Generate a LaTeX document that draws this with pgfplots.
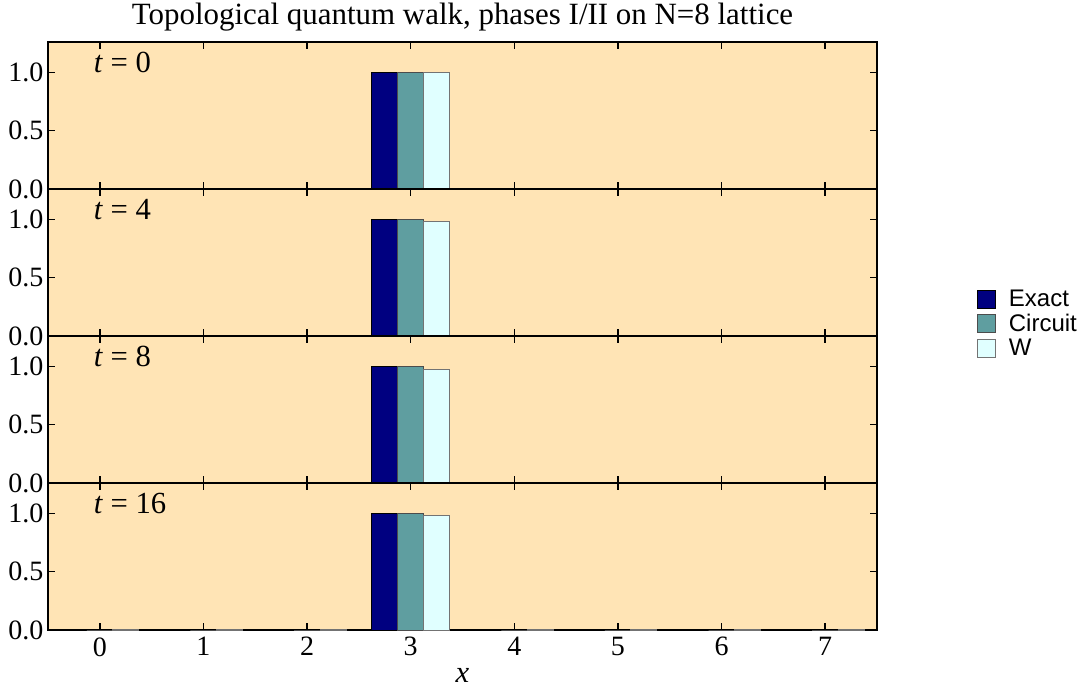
\documentclass[border=0pt]{standalone}
\usepackage{fontspec}
\setmainfont{Liberation Serif}
\newfontfamily\legfont{Liberation Sans}
\usepackage{pgfplots}
\usepackage{pgfplotstable}
\pgfplotsset{compat=1.18}
\usepgfplotslibrary{groupplots}
\definecolor{bg}{RGB}{255,228,181}
\definecolor{exactc}{RGB}{0,0,128}
\definecolor{circc}{RGB}{95,158,160}
\definecolor{wc}{RGB}{224,255,255}

\pgfplotstableread{
x e c w
0 0 0 0
1 0 0 0
2 0 0 0
3 1.0 1.0 1.0
4 0 0 0
5 0 0 0
6 0 0 0
7 0 0 0
}\tzero
\pgfplotstableread{
x e c w
0 0 0 0
1 0 0 0
2 0 0 0.006
3 1.0 1.0 0.98
4 0 0 0.006
5 0 0 0
6 0 0 0
7 0 0 0
}\tfour
\pgfplotstableread{
x e c w
0 0 0 0.002
1 0 0 0.002
2 0 0 0.006
3 1.0 1.0 0.97
4 0 0 0.006
5 0 0 0.002
6 0 0 0
7 0 0 0
}\teight
\pgfplotstableread{
x e c w
0 0 0 0.004
1 0 0 0.003
2 0 0 0.004
3 1.0 1.0 0.985
4 0 0 0.004
5 0 0 0.002
6 0 0 0.002
7 0 0 0.002
}\tsixteen

\newcommand{\tickfont}{\fontsize{21}{23}\selectfont}
\newcommand{\labfont}{\fontsize{23}{25}\selectfont}
\pgfplotsset{
  sqleg/.style={legend image code/.code={\draw[##1] (0pt,-6.75pt) rectangle (13.5pt,6.75pt); \path (21pt,0pt);}},
  pe/.style={fill=exactc, draw=black, line width=0.6pt},
  pc/.style={fill=circc, draw=black!70, line width=0.6pt},
  pw/.style={fill=wc, draw=black!55, line width=0.6pt},
}

\begin{document}
\begin{tikzpicture}
\begin{groupplot}[
  group style={group size=1 by 4, vertical sep=0pt, xticklabels at=edge bottom},
  scale only axis, width=621.75pt, height=110.25pt,
  xmin=-0.5, xmax=7.5, ymin=0, ymax=1.26,
  xtick={0,...,7}, ytick={0,0.5,1},
  ybar=0pt, /pgf/bar width=0.25,
  tick align=inside, major tick length=5pt,
  xtick pos=both, ytick pos=both,
  every tick/.style={black, line width=1.1pt},
  axis line style={line width=1.3pt},
  ticklabel style={font=\tickfont, /pgf/number format/assume math mode=true},
  xticklabel style={yshift=-2pt},
  yticklabel style={/pgf/number format/.cd, fixed, fixed zerofill, precision=1},
  axis background/.style={fill=bg},
]
\nextgroupplot[title={Topological quantum walk, phases I/II on N=8 lattice},
  title style={at={(0.5,1)}, anchor=base, yshift=7.5pt, font=\fontsize{23.2}{25}\selectfont}]
\addplot[pe] table[x=x,y=e] {\tzero};
\addplot[pc] table[x=x,y=c] {\tzero};
\addplot[pw] table[x=x,y=w] {\tzero};
\node[anchor=base west, inner sep=0pt, font=\labfont] at (axis cs:-0.06,1.0) {\textit{t} = 0};

\nextgroupplot[legend style={at={(1.116,0.35)}, anchor=north west, draw=none, fill=none,
  font=\legfont\fontsize{18}{20}\selectfont, row sep=0pt,
  legend cell align=left}]
\addplot[pe, sqleg] table[x=x,y=e] {\tfour};
\addplot[pc, sqleg] table[x=x,y=c] {\tfour};
\addplot[pw, sqleg] table[x=x,y=w] {\tfour};
\legend{Exact,Circuit,W}
\node[anchor=base west, inner sep=0pt, font=\labfont] at (axis cs:-0.06,1.0) {\textit{t} = 4};

\nextgroupplot
\addplot[pe] table[x=x,y=e] {\teight};
\addplot[pc] table[x=x,y=c] {\teight};
\addplot[pw] table[x=x,y=w] {\teight};
\node[anchor=base west, inner sep=0pt, font=\labfont] at (axis cs:-0.06,1.0) {\textit{t} = 8};

\nextgroupplot[xlabel={\textit{x}}, xlabel style={at={(0.5,0)}, anchor=base, yshift=-39pt, font=\labfont}]
\addplot[pe] table[x=x,y=e] {\tsixteen};
\addplot[pc] table[x=x,y=c] {\tsixteen};
\addplot[pw] table[x=x,y=w] {\tsixteen};
\node[anchor=base west, inner sep=0pt, font=\labfont] at (axis cs:-0.06,1.0) {\textit{t} = 16};
\end{groupplot}
\pgfresetboundingbox
\path[use as bounding box] ([shift={(-36pt,31.5pt)}]group c1r1.north west) rectangle ([shift={(155.25pt,-42.75pt)}]group c1r4.south east);
\end{tikzpicture}
\end{document}
